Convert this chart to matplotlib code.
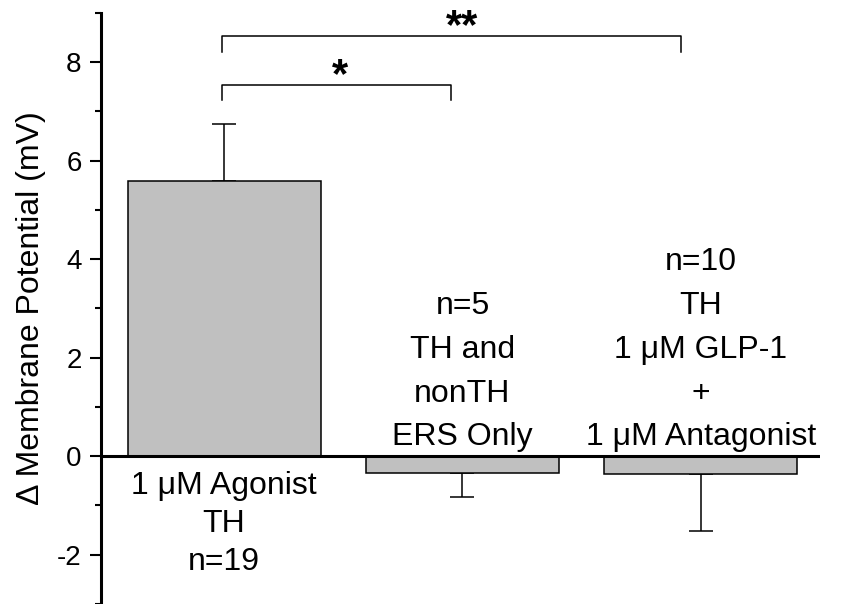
import matplotlib
matplotlib.use("Agg")
import matplotlib.pyplot as plt
from matplotlib.ticker import MultipleLocator

plt.rcParams['font.family'] = ['Liberation Sans', 'DejaVu Sans']
plt.rcParams['axes.unicode_minus'] = False

positions = [0, 1, 2]
means = [5.58, -0.34, -0.36]
err_up = [1.16, 0.0, 0.0]
err_down = [0.0, 0.49, 1.16]
below_labels = ["1 \u03bcM Agonist\nTH\nn=19", "", ""]
inside_labels = ["", "n=5\nTH and\nnonTH\nERS Only",
                 "n=10\nTH\n1 \u03bcM GLP-1\n+\n1 \u03bcM Antagonist"]
ylabel = "\u0394 Membrane Potential (mV)"
yticks = [-2, 0, 2, 4, 6, 8]
# significance brackets: (x_left, x_right, y_top, y_end, star_x, label)
brackets = [(-0.01, 0.95, 7.54, 7.23, 0.486, "*"),
            (-0.01, 1.915, 8.53, 8.20, 1.0, "**")]

fig = plt.figure(figsize=(8.42, 6.04), dpi=100)
ax = fig.add_axes([0.12, 0.0, 0.854, 0.9785])

ax.bar(positions, means, width=0.81, color='#c0c0c0', edgecolor='black',
       linewidth=1.1, zorder=2)
ax.errorbar(positions, means, yerr=[err_down, err_up], fmt='none',
            ecolor='black', elinewidth=1.1, capsize=8.6, capthick=1.1, zorder=1)

ax.axhline(0, color='black', linewidth=2.2, zorder=3)

for x, t in zip(positions, below_labels):
    if t:
        ax.text(x, -0.30, t, ha='center', va='top', fontsize=23, linespacing=1.34)
for x, t in zip(positions, inside_labels):
    if t:
        ax.text(x, 0.08, t, ha='center', va='bottom', fontsize=23, linespacing=1.6)

for xl, xr, yt, ye, sx, lab in brackets:
    ax.plot([xl, xl, xr, xr], [ye, yt, yt, ye], color='black', lw=1.1,
            clip_on=False)
    ax.text(sx, yt - 0.23, lab, ha='center', va='bottom', fontsize=30,
            fontweight='bold')

ax.set_xlim(-0.516, 2.5)
ax.set_ylim(-3, 9)
ax.set_yticks(yticks)
ax.yaxis.set_minor_locator(MultipleLocator(1))
ax.tick_params(axis='y', which='major', length=8, width=1.5, labelsize=20, pad=6)
ax.tick_params(axis='y', which='minor', length=4, width=1.5)
ax.set_xticks([])
for s in ['top', 'right', 'bottom']:
    ax.spines[s].set_visible(False)
ax.spines['left'].set_linewidth(2.2)
ax.set_ylabel(ylabel, fontsize=23, labelpad=8)

fig.savefig("out.png", dpi=100)
